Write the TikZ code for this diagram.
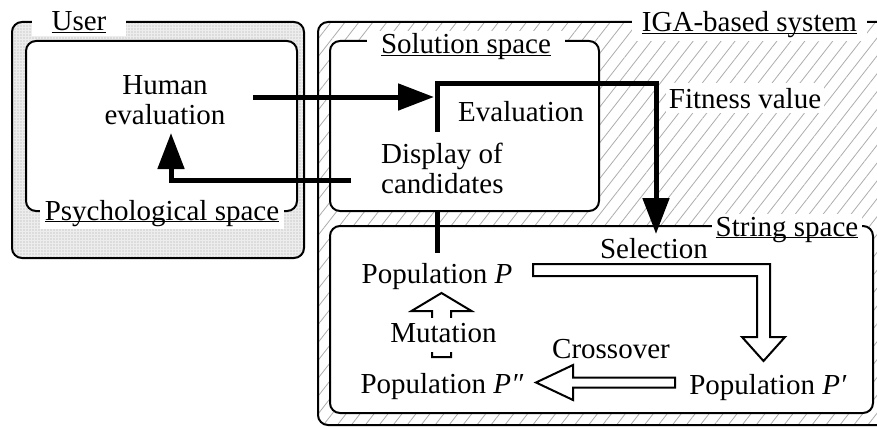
\documentclass[tikz,border=0pt]{standalone}
\usepackage{fontspec}
\setmainfont{Liberation Serif}
\usetikzlibrary{patterns.meta,arrows.meta,calc}

% underline at a fixed distance below the baseline, ignoring descenders
\newcommand\ulabel[1]{\leavevmode\rlap{\underline{\smash{\phantom{#1}}}}#1}

\begin{document}
\begin{tikzpicture}[x=1pt,y=-1pt,
  font=\fontsize{29}{30}\selectfont,
  frame/.style={draw,line width=2pt,rounded corners=10pt},
  tag/.style={fill=white,anchor=base,inner ysep=3pt},
  txt/.style={inner sep=0pt,align=center},
  flow/.style={line width=5pt,line join=miter},
  tip/.style={-{Triangle[length=36pt,width=26pt]}},
  hollow/.style={draw,fill=white,line width=2pt,line join=miter}]

\useasboundingbox (0,0) rectangle (877,428);

% ---------- user side ----------
\fill[black!7,rounded corners=10pt] (12,22) rectangle (304,258);
\fill[pattern={Dots[distance=3pt,radius=0.6pt]},pattern color=black!35,rounded corners=10pt] (12,22) rectangle (304,258);
\draw[frame] (12,22) rectangle (304,258);
\draw[frame,fill=white] (26,41) rectangle (297,211);

% ---------- system side ----------
\fill[white] (318,22) rectangle (890,425);
\fill[pattern={Lines[angle=52,distance=11pt,line width=0.8pt]},pattern color=black!32,rounded corners=10pt] (318,22) rectangle (890,425);
\draw[frame] (318,22) rectangle (890,425);
\draw[frame,fill=white] (330,41) rectangle (599,211);
\draw[frame,fill=white] (330,226) rectangle (873,413);

% ---------- space labels ----------
\node[tag,inner xsep=20pt] (lUser) at (79,31) {\ulabel{User}};
\node[tag,inner xsep=5pt] (lPsy) at (162,220) {\ulabel{Psychological space}};
\node[tag,inner xsep=10pt] (lIGA) at (749.5,32) {\ulabel{IGA-based system}};
\node[tag,inner xsep=14pt] (lSol) at (466,54) {\ulabel{Solution space}};
\node[tag,inner xsep=4pt] (lStr) at (787,236) {\ulabel{String space}};

% ---------- texts ----------
\node[txt] (human) at (165,100) {Human\\evaluation};
\node[txt,anchor=base] (eval) at (521,121) {Evaluation};
\node[txt,align=left,anchor=west] (disp) at (381,168) {Display of\\candidates};
\node[txt,anchor=base,fill=white,inner xsep=3pt,inner ysep=5pt] (fit) at (745,108) {Fitness value};
\node[txt,anchor=base] (sel) at (654,258) {Selection};
\node[txt,anchor=base] (popP) at (437,283) {Population \textit{P}};
\node[txt,anchor=base] (cross) at (611,358) {Crossover};
\node[txt,anchor=base] (popPpp) at (442,393) {Population \textit{P″}};
\node[txt,anchor=base] (popPp) at (768,394) {Population \textit{P′}};

% ---------- connector end points ----------
\coordinate (hOut) at (253,97);
\coordinate (eIn) at (434,97);
\coordinate (eOut) at (437,132);
\coordinate (fUp) at (437,83);
\coordinate (fTurn) at (656,83);
\coordinate (sIn) at (656,234);
\coordinate (dOut) at (351,180);
\coordinate (hTurn) at (171,180);
\coordinate (hIn) at (171,133);
\coordinate (dDown) at (437,212);
\coordinate (pUp) at (437,253);

% ---------- solid connectors ----------
\draw[flow,tip] (hOut) -- (eIn);
\draw[flow,tip] (eOut) -- (fUp) -- (fTurn) -- (sIn);
\draw[flow,tip] (dOut) -- (hTurn) -- (hIn);
\draw[flow] (dDown) -- (pUp);

% ---------- hollow arrows in string space ----------
\coordinate (selS) at (533,270);
\coordinate (selC) at (763.5,270);
\coordinate (selT) at (763.5,361);
\draw[hollow] ($(selS)+(0,-6)$) -- ($(selC)+(6.5,-6)$) -- ($(selT)+(6.5,-24)$)
  -- ($(selT)+(21.5,-24)$) -- (selT) -- ($(selT)+(-21.5,-24)$)
  -- ($(selT)+(-6.5,-24)$) -- ($(selC)+(-6.5,6)$) -- ($(selS)+(0,6)$) -- cycle;

\coordinate (crS) at (675,382.5);
\coordinate (crT) at (536,382.5);
\draw[hollow] ($(crS)+(0,-5)$) -- ($(crT)+(37,-5)$) -- ($(crT)+(37,-17.5)$)
  -- (crT) -- ($(crT)+(37,17.5)$) -- ($(crT)+(37,5)$) -- ($(crS)+(0,5)$) -- cycle;

\coordinate (muS) at (441.5,357);
\coordinate (muT) at (441.5,293);
\draw[hollow] ($(muS)+(-9.5,0)$) -- ($(muT)+(-9.5,18)$) -- ($(muT)+(-30,18)$)
  -- (muT) -- ($(muT)+(30,18)$) -- ($(muT)+(9.5,18)$) -- ($(muS)+(9.5,0)$) -- cycle;
\node[txt,anchor=base,fill=white,inner xsep=0pt,inner ysep=5pt,text depth=5pt] (mut) at (443.5,342) {Mutation};

\end{tikzpicture}
\end{document}
